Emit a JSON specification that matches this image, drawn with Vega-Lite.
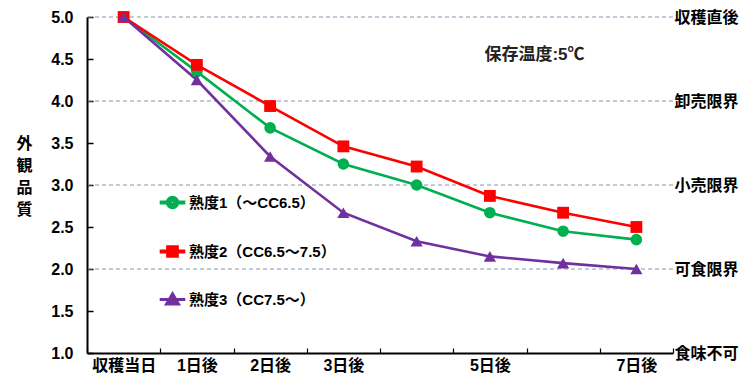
{
  "$schema": "https://vega.github.io/schema/vega-lite/v6.json",
  "width": 586,
  "height": 336,
  "autosize": "none",
  "padding": {"left": 87, "top": 17, "right": 82, "bottom": 30},
  "background": "white",
  "config": {
    "view": {"stroke": null},
    "font": "'Liberation Sans', 'Noto Sans CJK JP', sans-serif",
    "axis": {
      "grid": false,
      "labelColor": "#000",
      "labelFontWeight": "bold",
      "labelFontSize": 16,
      "domainColor": "#000",
      "tickColor": "#000",
      "titleColor": "#000"
    }
  },
  "datasets": {
    "limits": [
      {"v": 5, "name": "収穫直後"},
      {"v": 4, "name": "卸売限界"},
      {"v": 3, "name": "小売限界"},
      {"v": 2, "name": "可食限界"}
    ],
    "quality": [
      {"day": "収穫当日", "series": "熟度1（～CC6.5）", "v": 5.0},
      {"day": "1日後", "series": "熟度1（～CC6.5）", "v": 4.35},
      {"day": "2日後", "series": "熟度1（～CC6.5）", "v": 3.68},
      {"day": "3日後", "series": "熟度1（～CC6.5）", "v": 3.25},
      {"day": "4日後", "series": "熟度1（～CC6.5）", "v": 3.0},
      {"day": "5日後", "series": "熟度1（～CC6.5）", "v": 2.67},
      {"day": "6日後", "series": "熟度1（～CC6.5）", "v": 2.45},
      {"day": "7日後", "series": "熟度1（～CC6.5）", "v": 2.35},
      {"day": "収穫当日", "series": "熟度2（CC6.5～7.5）", "v": 5.0},
      {"day": "1日後", "series": "熟度2（CC6.5～7.5）", "v": 4.43},
      {"day": "2日後", "series": "熟度2（CC6.5～7.5）", "v": 3.94},
      {"day": "3日後", "series": "熟度2（CC6.5～7.5）", "v": 3.46},
      {"day": "4日後", "series": "熟度2（CC6.5～7.5）", "v": 3.22},
      {"day": "5日後", "series": "熟度2（CC6.5～7.5）", "v": 2.87},
      {"day": "6日後", "series": "熟度2（CC6.5～7.5）", "v": 2.67},
      {"day": "7日後", "series": "熟度2（CC6.5～7.5）", "v": 2.5},
      {"day": "収穫当日", "series": "熟度3（CC7.5～）", "v": 5.0},
      {"day": "1日後", "series": "熟度3（CC7.5～）", "v": 4.25},
      {"day": "2日後", "series": "熟度3（CC7.5～）", "v": 3.34},
      {"day": "3日後", "series": "熟度3（CC7.5～）", "v": 2.67},
      {"day": "4日後", "series": "熟度3（CC7.5～）", "v": 2.33},
      {"day": "5日後", "series": "熟度3（CC7.5～）", "v": 2.15},
      {"day": "6日後", "series": "熟度3（CC7.5～）", "v": 2.07},
      {"day": "7日後", "series": "熟度3（CC7.5～）", "v": 2.0}
    ],
    "note": [
      {"day": "5日後", "v": 4.55, "text": "保存温度:5℃"}
    ]
  },
  "layer": [
    {
      "data": {"name": "limits"},
      "mark": {"type": "rule", "strokeDash": [4, 3], "color": "#8598b6", "strokeWidth": 1.2},
      "encoding": {
        "y": {
          "field": "v",
          "type": "quantitative",
          "scale": {"domain": [1, 5], "nice": false, "zero": false},
          "axis": {
            "orient": "right",
            "values": [1, 2, 3, 4, 5],
            "labelExpr": "datum.value == 5 ? '収穫直後' : datum.value == 4 ? '卸売限界' : datum.value == 3 ? '小売限界' : datum.value == 2 ? '可食限界' : '食味不可'",
            "domain": false,
            "ticks": false,
            "labelPadding": 1,
            "labelFontSize": 16,
            "title": null
          }
        }
      }
    },
    {
      "data": {"name": "quality"},
      "encoding": {
        "x": {
          "field": "day",
          "type": "nominal",
          "scale": {
            "type": "band",
            "domain": ["収穫当日", "1日後", "2日後", "3日後", "4日後", "5日後", "6日後", "7日後"],
            "paddingInner": 0,
            "paddingOuter": 0
          },
          "axis": {
            "title": null,
            "labelAngle": 0,
            "labelExpr": "datum.value == '4日後' || datum.value == '6日後' ? '' : datum.label",
            "tickBand": "extent",
            "tickSize": -5,
            "tickWidth": 1.2,
            "domainWidth": 2,
            "labelPadding": 9,
            "labelFontSize": 16
          }
        },
        "y": {
          "field": "v",
          "type": "quantitative",
          "scale": {"domain": [1, 5], "nice": false, "zero": false},
          "axis": {
            "values": [1, 1.5, 2, 2.5, 3, 3.5, 4, 4.5, 5],
            "format": ".1f",
            "tickSize": -6,
            "tickWidth": 1.5,
            "domainWidth": 2,
            "labelPadding": 20,
            "labelFontSize": 16,
            "title": ["外", "観", "品", "質"],
            "titleAngle": 0,
            "titleFontSize": 16,
            "titleFontWeight": "bold",
            "titleLineHeight": 22,
            "titleAlign": "center",
            "titleBaseline": "top",
            "titleX": -63,
            "titleY": 118
          }
        }
      },
      "layer": [
        {
          "mark": {"type": "point", "filled": true, "opacity": 0},
          "encoding": {
            "fill": {
              "field": "series",
              "type": "nominal",
              "scale": {
                "domain": ["熟度1（～CC6.5）", "熟度2（CC6.5～7.5）", "熟度3（CC7.5～）"],
                "range": ["#00b050", "#ff0000", "#7030a0"]
              },
              "legend": {
                "title": null,
                "orient": "none",
                "legendX": 72,
                "legendY": 172,
                "symbolSize": 576,
                "symbolOpacity": 1,
                "labelFontSize": 15,
                "labelFontWeight": "bold",
                "labelColor": "#000",
                "labelOffset": 3,
                "rowPadding": 24
              }
            },
            "shape": {
              "field": "series",
              "type": "nominal",
              "scale": {
                "domain": ["熟度1（～CC6.5）", "熟度2（CC6.5～7.5）", "熟度3（CC7.5～）"],
                "range": [
                  "M-0.96,-0.05H-0.42V0.05H-0.96Z M0.42,-0.05H0.96V0.05H0.42Z M-0.45,0A0.45,0.45 0 1,1 0.45,0A0.45,0.45 0 1,1 -0.45,0Z M-0.35,0A0.35,0.35 0 1,1 0.35,0A0.35,0.35 0 1,1 -0.35,0Z M-0.25,0A0.25,0.25 0 1,1 0.25,0A0.25,0.25 0 1,1 -0.25,0Z M-0.15,0A0.15,0.15 0 1,1 0.15,0A0.15,0.15 0 1,1 -0.15,0Z M-0.05,0A0.05,0.05 0 1,1 0.05,0A0.05,0.05 0 1,1 -0.05,0Z",
                  "M-0.96,-0.05H-0.42V0.05H-0.96Z M0.42,-0.05H0.96V0.05H0.42Z M-0.42,-0.42H0.42V0.42H-0.42Z M-0.32,-0.32H0.32V0.32H-0.32Z M-0.22,-0.22H0.22V0.22H-0.22Z M-0.12,-0.12H0.12V0.12H-0.12Z M-0.03,-0.03H0.03V0.03H-0.03Z",
                  "M-0.96,-0.01H-0.3V0.01H-0.96Z M0.3,-0.01H0.96V0.01H0.3Z M0,-0.5L0.52,0.4L-0.52,0.4Z M0,-0.35L0.39,0.325L-0.39,0.325Z M0,-0.2L0.26,0.25L-0.26,0.25Z M0,-0.05L0.13,0.175L-0.13,0.175Z M0,0.07L0.026,0.115L-0.026,0.115Z"
                ]
              }
            }
          }
        },
        {
          "mark": {"type": "line"},
          "encoding": {
            "stroke": {
              "field": "series",
              "type": "nominal",
              "scale": {
                "domain": ["熟度1（～CC6.5）", "熟度2（CC6.5～7.5）", "熟度3（CC7.5～）"],
                "range": ["#00b050", "#ff0000", "#7030a0"]
              },
              "legend": null
            },
            "strokeWidth": {
              "field": "series",
              "type": "ordinal",
              "scale": {
                "domain": ["熟度1（～CC6.5）", "熟度2（CC6.5～7.5）", "熟度3（CC7.5～）"],
                "range": [2.6, 2.6, 1.2]
              },
              "legend": null
            }
          }
        },
        {
          "transform": [{"filter": "datum.series == '熟度1（～CC6.5）'"}],
          "mark": {"type": "point", "shape": "circle", "filled": true, "size": 135, "opacity": 1, "color": "#00b050"}
        },
        {
          "transform": [{"filter": "datum.series == '熟度2（CC6.5～7.5）'"}],
          "mark": {"type": "point", "shape": "square", "filled": true, "size": 140, "opacity": 1, "color": "#ff0000"}
        },
        {
          "transform": [{"filter": "datum.series == '熟度3（CC7.5～）'"}],
          "mark": {"type": "point", "shape": "triangle-up", "filled": true, "size": 150, "opacity": 1, "color": "#7030a0"}
        },
        {
          "data": {"name": "note"},
          "mark": {"type": "text", "fontSize": 17, "fontWeight": "bold", "color": "#222", "align": "center", "baseline": "middle", "dx": 8},
          "encoding": {
            "x": {"field": "day", "type": "nominal", "bandPosition": 1},
            "y": {"field": "v", "type": "quantitative"},
            "text": {"field": "text"}
          }
        }
      ]
    }
  ],
  "resolve": {"scale": {"y": "independent"}, "axis": {"y": "independent"}}
}
